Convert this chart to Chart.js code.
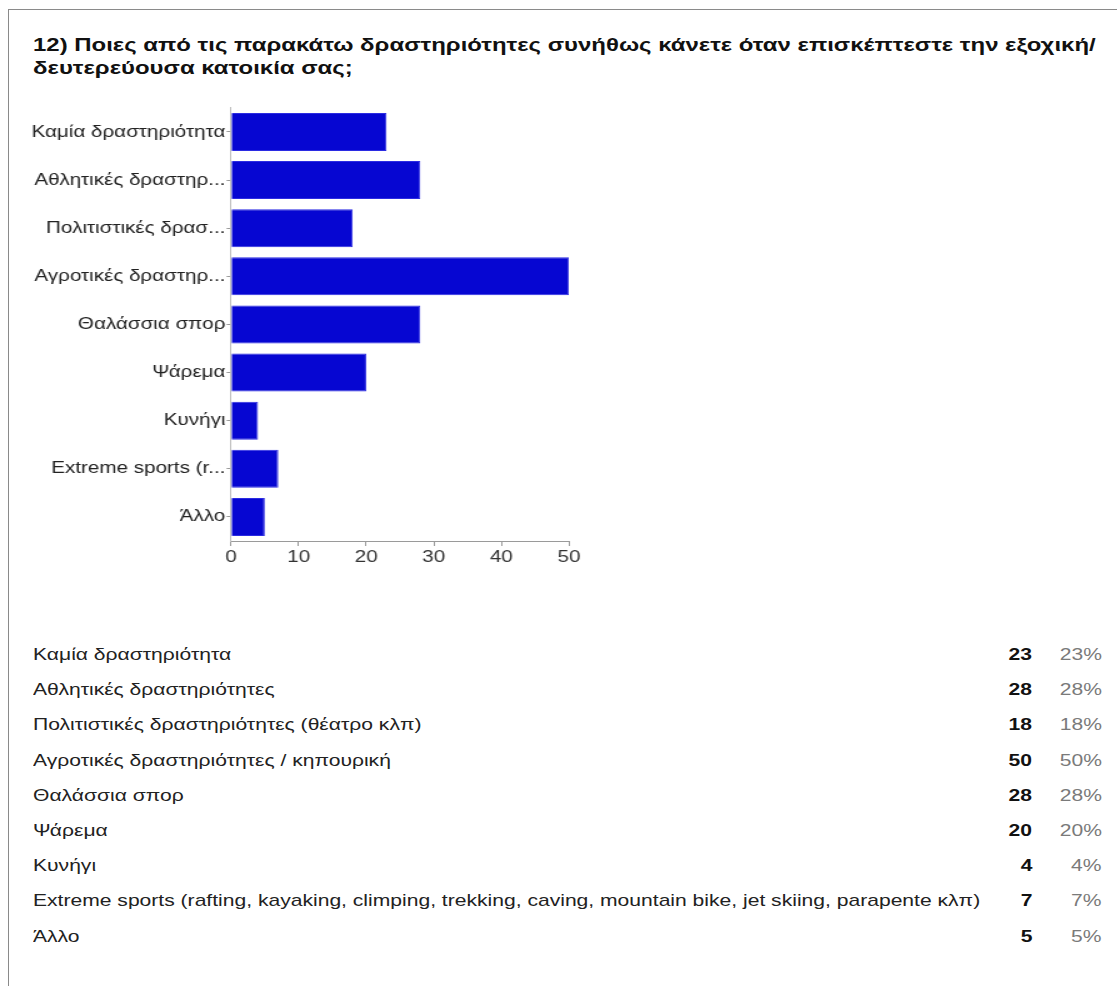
<!DOCTYPE html>
<html lang="el">
<head>
<meta charset="utf-8">
<title>Δραστηριότητες στην εξοχική κατοικία</title>
<script src="https://cdn.jsdelivr.net/npm/chart.js@4.4.1/dist/chart.umd.min.js"></script>
<style>
  html, body { margin: 0; padding: 0; background: #fff; }
  body { width: 1117px; height: 986px; position: relative; overflow: hidden;
         font-family: "Liberation Sans", Arial, sans-serif; }
  #frame { position: absolute; left: 8px; top: 9px; width: 1200px; height: 1000px;
           border-top: 1px solid #8a8a8a; border-left: 1px solid #8a8a8a; }
  .wide { position: absolute; white-space: nowrap; }
  #title { left: 33px; top: 33px; font-weight: bold; font-size: 19px; line-height: 23px;
           color: #111; transform: scaleX(1.26); transform-origin: 0 0; }
  #chartBox { position: absolute; left: 0; top: 97px; width: 480px; height: 484px;
              transform: scaleX(1.25); transform-origin: 0 0; }
  .cell { font-size: 17px; line-height: 22px; height: 22px; }
  .cell.label { color: #222; transform: scaleX(1.24); transform-origin: 0 50%; }
  .cell.count { color: #111; font-weight: bold; text-align: right;
                transform: scaleX(1.24); transform-origin: 100% 50%; }
  .cell.pct { color: #7a7a7a; text-align: right;
              transform: scaleX(1.24); transform-origin: 100% 50%; }
</style>
</head>
<body>
<div id="frame"></div>
<div id="title" class="wide">12) Ποιες από τις παρακάτω δραστηριότητες συνήθως κάνετε όταν επισκέπτεστε την εξοχική/<br>δευτερεύουσα κατοικία σας;</div>
<div id="chartBox"><canvas id="bars" width="480" height="484"></canvas></div>
<div id="summary"></div>

<script>
// Answer options, in questionnaire order
const categories = [
  "Καμία δραστηριότητα",
  "Αθλητικές δραστηριότητες",
  "Πολιτιστικές δραστηριότητες (θέατρο κλπ)",
  "Αγροτικές δραστηριότητες / κηπουρική",
  "Θαλάσσια σπορ",
  "Ψάρεμα",
  "Κυνήγι",
  "Extreme sports (rafting, kayaking, climping, trekking, caving, mountain bike, jet skiing, parapente κλπ)",
  "Άλλο"
];

// Number of respondents who chose each option
const counts = [23, 28, 18, 50, 28, 20, 4, 7, 5];

// Total respondents, used for the percentage column
const respondents = 100;

// Value-axis ticks
const axisTicks = [0, 10, 20, 30, 40, 50];

// Long option names are shortened on the category axis
function shortLabel(text) {
  return text.length > 19 ? text.slice(0, 17) + "..." : text;
}

// Summary rows under the chart: option, count, share
const summary = document.getElementById("summary");
const rowTop = 644, rowStep = 35.2;
categories.forEach((name, i) => {
  const top = rowTop + i * rowStep;
  const pct = Math.round(counts[i] / respondents * 100);
  const cells = [
    { cls: "label", text: name, css: "left:33px;" },
    { cls: "count", text: String(counts[i]), css: "right:" + (1117 - 1032) + "px;" },
    { cls: "pct", text: pct + "%", css: "right:" + (1117 - 1102) + "px;" }
  ];
  cells.forEach(c => {
    const d = document.createElement("div");
    d.className = "wide cell " + c.cls;
    d.style.cssText = c.css + "top:" + top + "px;";
    d.textContent = c.text;
    summary.appendChild(d);
  });
});

const font = { family: '"Liberation Sans", Arial, sans-serif', size: 16.5 };

new Chart(document.getElementById("bars"), {
  type: "bar",
  data: {
    labels: categories.map(shortLabel),
    datasets: [{
      data: counts,
      backgroundColor: "#0606d2",
      borderColor: "#2b2be2",
      borderWidth: 1,
      categoryPercentage: 1.0,
      barPercentage: 0.79
    }]
  },
  options: {
    indexAxis: "y",
    responsive: false,
    animation: false,
    layout: { padding: { left: 0, right: 24.8, top: 10, bottom: 0 } },
    plugins: {
      legend: { display: false },
      tooltip: { enabled: false },
      title: { display: false }
    },
    scales: {
      x: {
        type: "linear",
        min: axisTicks[0],
        max: axisTicks[axisTicks.length - 1],
        afterBuildTicks: (scale) => { scale.ticks = axisTicks.map(v => ({ value: v })); },
        grid: { drawOnChartArea: false, drawTicks: true, tickLength: 5, color: "#9a9a9a" },
        border: { display: true, color: "#9a9a9a", width: 1 },
        ticks: { font: font, color: "#333", padding: 2, maxRotation: 0 },
        afterFit: (scale) => { scale.height = 40; }
      },
      y: {
        type: "category",
        grid: { drawOnChartArea: false, drawTicks: true, tickLength: 3.5, color: "#9a9a9a", offset: false },
        border: { display: true, color: "#bdbdbd", width: 1 },
        ticks: { font: font, color: "#222", padding: 1, autoSkip: false },
        afterFit: (scale) => { scale.width = 184.8; }
      }
    }
  }
});
</script>
</body>
</html>
